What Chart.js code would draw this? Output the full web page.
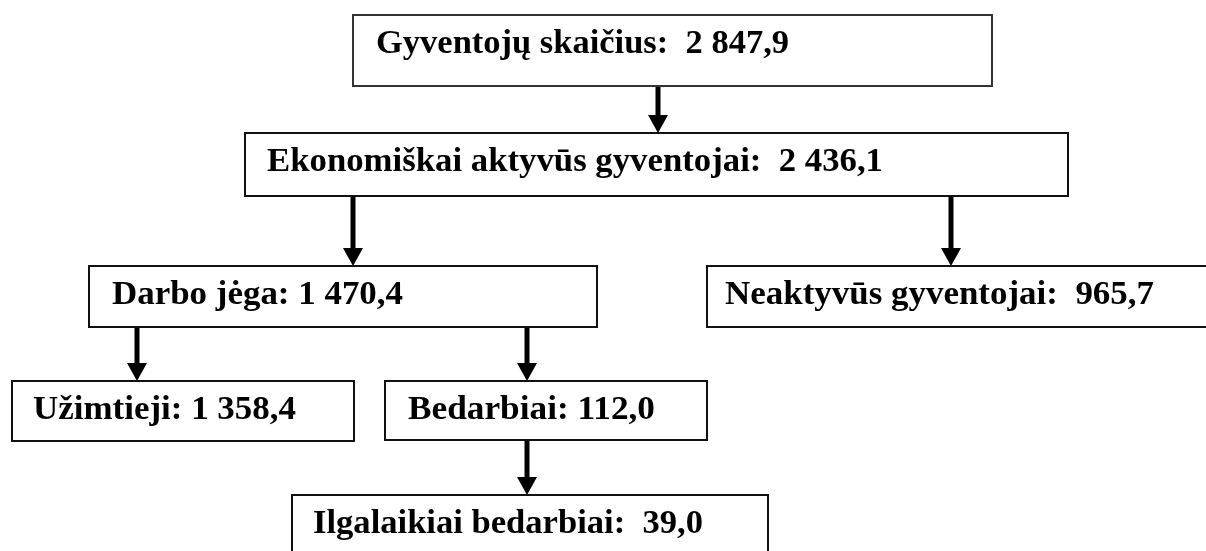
<!DOCTYPE html>
<html>
<head>
<meta charset="utf-8">
<script src="https://cdn.jsdelivr.net/npm/chart.js"></script>
<style>
  html, body { margin: 0; padding: 0; background: #fff; }
  #wrap { width: 1206px; height: 551px; }
</style>
</head>
<body>
<div id="wrap"><canvas id="schema" width="1206" height="551"></canvas></div>
<script>
// duomenys (tūkst. gyventojų)
const names = ['Gyventojų skaičius', 'Ekonomiškai aktyvūs gyventojai', 'Darbo jėga',
  'Neaktyvūs gyventojai', 'Užimtieji', 'Bedarbiai', 'Ilgalaikiai bedarbiai'];
const values = [2847.9, 2436.1, 1470.4, 965.7, 1358.4, 112.0, 39.0];
const parents = [null, 0, 1, 1, 2, 2, 5];
const seps = [':  ', ':  ', ': ', ':  ', ': ', ': ', ':  '];

// išdėstymas (ašies vienetai = px)
const boxes = [
  [353, 15, 992, 86],
  [245, 133, 1068, 196],
  [89, 266, 597, 327],
  [707, 266, 1215, 327],
  [12, 381, 354, 441],
  [385, 381, 707, 440],
  [292, 495, 768, 560]
];
const textX = [376, 267, 112, 725, 33, 408, 313];
const textW = [413, 616, 291, 429, 263, 247, 390];
const arrowX = [null, 658, 353, 951, 137, 527, 527];

function fmt(v) {
  let s = v.toFixed(1).replace('.', ',');
  let parts = s.split(',');
  parts[0] = parts[0].replace(/\B(?=(\d{3})+(?!\d))/g, ' ');
  return parts.join(',');
}

const labels = names.map((n, i) => n + seps[i] + fmt(values[i]));
const points = boxes.map((b, i) => ({ x: textX[i], y: b[1] + 38 }));

const schemaPlugin = {
  id: 'schema',
  afterDatasetsDraw(chart) {
    const ctx = chart.ctx;
    const xs = chart.scales.x, ys = chart.scales.y;
    const meta = chart.getDatasetMeta(0);
    ctx.save();

    // rodyklės
    ctx.fillStyle = '#000';
    ctx.strokeStyle = '#000';
    for (let i = 0; i < parents.length; i++) {
      if (parents[i] === null) continue;
      let px = xs.getPixelForValue(arrowX[i]);
      let y0 = ys.getPixelForValue(boxes[parents[i]][3]);
      let y1 = ys.getPixelForValue(boxes[i][1]);
      ctx.lineWidth = 5;
      ctx.beginPath();
      ctx.moveTo(px, y0);
      ctx.lineTo(px, y1 - 15);
      ctx.stroke();
      ctx.beginPath();
      ctx.moveTo(px - 10, y1 - 18);
      ctx.lineTo(px + 10, y1 - 18);
      ctx.lineTo(px, y1);
      ctx.closePath();
      ctx.fill();
    }

    // langeliai
    for (let i = 0; i < boxes.length; i++) {
      let b = boxes[i];
      let x0 = xs.getPixelForValue(b[0]), x1 = xs.getPixelForValue(b[2]);
      let y0 = ys.getPixelForValue(b[1]), y1 = ys.getPixelForValue(b[3]);
      ctx.fillStyle = '#fff';
      ctx.fillRect(x0, y0, x1 - x0, y1 - y0);
      ctx.lineWidth = 2;
      ctx.strokeStyle = i === 0 ? '#333' : '#111';
      ctx.strokeRect(x0, y0, x1 - x0, y1 - y0);
    }

    // tekstai
    ctx.fillStyle = '#000';
    ctx.font = 'bold 33px "Liberation Serif", "Times New Roman", serif';
    ctx.textBaseline = 'alphabetic';
    ctx.textAlign = 'left';
    meta.data.forEach((pt, i) => {
      let w = ctx.measureText(labels[i]).width;
      ctx.save();
      ctx.translate(pt.x, pt.y);
      ctx.scale(textW[i] / w, 1);
      ctx.fillText(labels[i], 0, 0);
      ctx.restore();
    });

    ctx.restore();
  }
};

new Chart('schema', {
  type: 'scatter',
  data: {
    datasets: [{
      data: points,
      pointRadius: 0,
      pointHoverRadius: 0
    }]
  },
  options: {
    responsive: false,
    animation: false,
    layout: { padding: 0 },
    plugins: { legend: { display: false }, tooltip: { enabled: false } },
    scales: {
      x: { type: 'linear', min: 0, max: 1206, display: false },
      y: { type: 'linear', min: 0, max: 551, reverse: true, display: false }
    }
  },
  plugins: [schemaPlugin]
});
</script>
</body>
</html>
